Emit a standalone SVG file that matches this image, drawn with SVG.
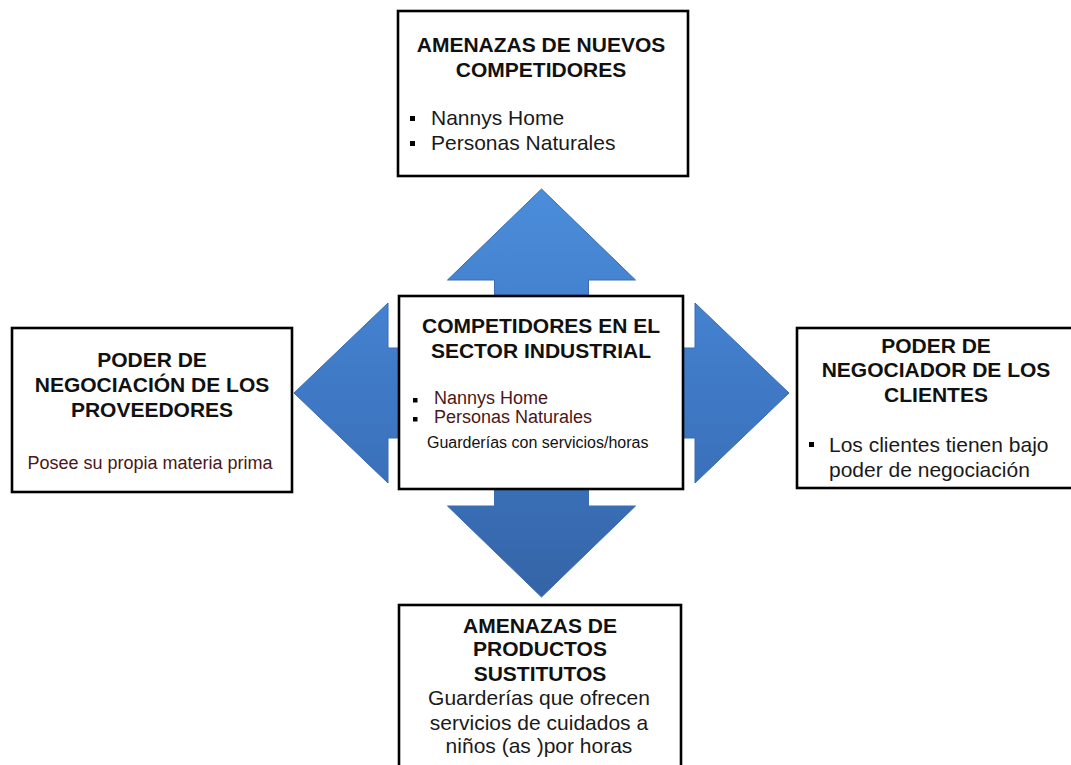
<svg xmlns="http://www.w3.org/2000/svg" width="1071" height="765" viewBox="0 0 1071 765">
  <style>
    .box { fill: #ffffff; stroke: #000000; stroke-width: 2.6; }
    .title { font-family: "Liberation Sans", Arial, sans-serif; font-weight: bold; font-size: 21px; fill: #111111; text-anchor: middle; }
    .body { font-family: "Liberation Sans", Arial, sans-serif; font-size: 21px; fill: #1a1a1a; }
    .mid { text-anchor: middle; }
    .small { font-family: "Liberation Sans", Arial, sans-serif; font-size: 18px; fill: #4a1818; }
    .tiny { font-family: "Liberation Sans", Arial, sans-serif; font-size: 16px; fill: #111111; }
    .bullet { fill: #000000; }
  </style>
  <defs>
    <linearGradient id="blue" x1="0" y1="189" x2="0" y2="597" gradientUnits="userSpaceOnUse">
      <stop offset="0" stop-color="#4b8dda"/>
      <stop offset="0.5" stop-color="#3f79c6"/>
      <stop offset="1" stop-color="#3464a6"/>
    </linearGradient>
  </defs>
  <rect width="1071" height="765" fill="#ffffff"/>

  <g id="connectors">
    <polygon fill="url(#blue)" stroke="#3a6cb0" stroke-width="1" stroke-linejoin="miter"
      points="541.5,189 635.5,280 588.5,280 588.5,348 695,348 695,303 789,393 695,483 695,438 588.5,438 588.5,506 635.5,506 541.5,597 447.5,506 494.5,506 494.5,438 388,438 388,483 294,393 388,303 388,348 494.5,348 494.5,280 447.5,280"/>
  </g>

  <g id="node-top">
    <rect class="box" x="398" y="11" width="290" height="165"/>
    <text class="title" x="541" y="52">AMENAZAS DE NUEVOS</text>
    <text class="title" x="541" y="77">COMPETIDORES</text>
    <rect class="bullet" x="410" y="116" width="5" height="5"/>
    <text class="body" x="431" y="125">Nannys Home</text>
    <rect class="bullet" x="410" y="141" width="5" height="5"/>
    <text class="body" x="431" y="150">Personas Naturales</text>
  </g>

  <g id="node-left">
    <rect class="box" x="12" y="328" width="280" height="164"/>
    <text class="title" x="152" y="367">PODER DE</text>
    <text class="title" x="152" y="392">NEGOCIACIÓN DE LOS</text>
    <text class="title" x="152" y="417">PROVEEDORES</text>
    <text class="small mid" x="150" y="469">Posee su propia materia prima</text>
  </g>

  <g id="node-center">
    <rect class="box" x="399" y="296" width="284" height="193"/>
    <text class="title" x="541" y="333">COMPETIDORES EN EL</text>
    <text class="title" x="541" y="358">SECTOR INDUSTRIAL</text>
    <rect class="bullet" x="413" y="398" width="4.5" height="4.5"/>
    <text class="small" x="434" y="404">Nannys Home</text>
    <rect class="bullet" x="413" y="417" width="4.5" height="4.5"/>
    <text class="small" x="434" y="423">Personas Naturales</text>
    <text class="tiny" x="427" y="448">Guarderías con servicios/horas</text>
  </g>

  <g id="node-right">
    <rect class="box" x="797" y="328" width="290" height="160"/>
    <text class="title" x="936" y="353">PODER DE</text>
    <text class="title" x="936" y="377">NEGOCIADOR DE LOS</text>
    <text class="title" x="936" y="402">CLIENTES</text>
    <rect class="bullet" x="809" y="442" width="5" height="5"/>
    <text class="body" x="829" y="452">Los clientes tienen bajo</text>
    <text class="body" x="829" y="477">poder de negociación</text>
  </g>

  <g id="node-bottom">
    <rect class="box" x="399" y="605" width="282" height="180"/>
    <text class="title" x="540" y="633">AMENAZAS DE</text>
    <text class="title" x="540" y="656">PRODUCTOS</text>
    <text class="title" x="540" y="681">SUSTITUTOS</text>
    <text class="body mid" x="539" y="705">Guarderías que ofrecen</text>
    <text class="body mid" x="539" y="730">servicios de cuidados a</text>
    <text class="body mid" x="539" y="753">niños (as )por horas</text>
  </g>
</svg>
